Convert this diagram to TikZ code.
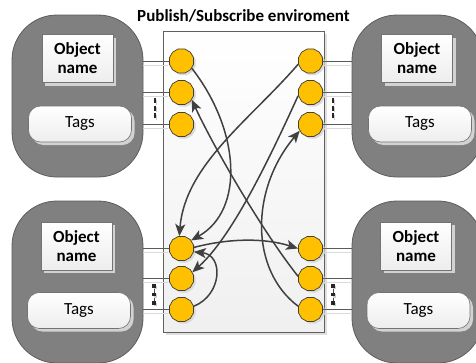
\documentclass[tikz,border=0pt]{standalone}
\usepackage{fontspec}
\setmainfont{Carlito}
\usetikzlibrary{shapes.geometric,arrows.meta,shadows}
\definecolor{gold}{RGB}{255,192,0}
\definecolor{ringline}{RGB}{64,64,64}
\definecolor{blockfill}{RGB}{128,128,128}
\definecolor{blockline}{RGB}{92,92,92}
\definecolor{arr}{RGB}{64,64,64}
\definecolor{connc}{RGB}{90,90,90}
\begin{document}
\begin{tikzpicture}[x=1pt,y=-1pt,
  blockbox/.style={rectangle, draw=blockline, fill=blockfill, line width=0.8pt,
    rounded corners=45pt, minimum width=131pt, minimum height=162pt, inner sep=0pt},
  namebox/.style={rectangle, draw=gray!90!black, line width=0.6pt, top color=white, bottom color=gray!14,
    minimum width=71pt, minimum height=48pt, inner sep=0pt, align=center,
    font=\bfseries\fontsize{17}{19}\selectfont,
    drop shadow={shadow xshift=3pt, shadow yshift=-3pt, fill=gray!35, opacity=1}},
  tagbox/.style={rectangle, draw=gray!90!black, line width=0.6pt, top color=white, bottom color=gray!14,
    rounded corners=12pt, minimum width=103pt, minimum height=36pt, inner sep=0pt,
    font=\fontsize{17}{19}\selectfont,
    drop shadow={shadow xshift=3pt, shadow yshift=-3pt, fill=gray!35, opacity=1}},
  port/.style={regular polygon, regular polygon sides=12, minimum size=25pt, inner sep=0pt,
    fill=gold, draw=ringline, line width=0.7pt,
    drop shadow={shadow xshift=2pt, shadow yshift=-2pt, fill=gray!30, opacity=1}},
  panelbox/.style={rectangle, draw=gray!75!black, line width=0.6pt, top color=white, bottom color=gray!12,
    minimum width=161pt, minimum height=301pt, inner sep=0pt,
    drop shadow={shadow xshift=3pt, shadow yshift=-3pt, fill=gray!25, opacity=1}},
  connline/.style={draw=connc, line width=0.7pt},
  connshade/.style={draw=gray!30, line width=0.9pt},
  arrowline/.style={draw=arr, line width=1.5pt, -{Stealth[length=12pt,width=10pt,inset=3pt]}},
  dashmark/.style={draw=black!85, line width=2.4pt, dash pattern=on 5pt off 2.5pt},
  dashshade/.style={draw=gray!40, line width=1.5pt, dash pattern=on 5pt off 2.5pt}
]
\useasboundingbox (0,0) rectangle (476,362);
\clip (0,0) rectangle (476,362);

% title
\node[font=\bfseries\fontsize{17}{20}\selectfont, anchor=base] (title) at (243.5,21) {Publish/Subscribe enviroment};

% panel
\node[panelbox] (env) at (243.5,181.5) {};

% object blocks
\node[blockbox] (blkTL) at (77.5,96) {};
\node[blockbox] (blkTR) at (417.5,96) {};
\node[blockbox] (blkBL) at (77.5,282) {};
\node[blockbox] (blkBR) at (417.5,282) {};

\node[namebox] (nameTL) at (77.5,58.5) {Object\\name};
\node[namebox] (nameTR) at (417,58.5) {Object\\name};
\node[namebox] (nameBL) at (76.5,246) {Object\\name};
\node[namebox] (nameBR) at (416,246) {Object\\name};

\node[tagbox] (tagTL) at (80,124) {Tags};
\node[tagbox] (tagTR) at (420,124) {Tags};
\node[tagbox] (tagBL) at (79,310.5) {Tags};
\node[tagbox] (tagBR) at (418.5,310.5) {Tags};

% ports
\node[port] (L1) at (181.5,61) {};
\node[port] (L2) at (181.5,92.5) {};
\node[port] (L3) at (181.5,124.5) {};
\node[port] (R1) at (310.5,61) {};
\node[port] (R2) at (310.5,92.5) {};
\node[port] (R3) at (310.5,124.5) {};
\node[port] (BL1) at (181.5,248.5) {};
\node[port] (BL2) at (181.5,278.5) {};
\node[port] (BL3) at (181.5,309.5) {};
\node[port] (BR1) at (310.5,248.5) {};
\node[port] (BR2) at (310.5,278.5) {};
\node[port] (BR3) at (310.5,309.5) {};

% block-to-port links
\foreach \c in {L1,L2,L3}{
  \draw[connshade] ([yshift=-4pt]blkTL.east |- \c) -- ([yshift=-4pt,xshift=-1pt]\c.west);
  \draw[connline] (blkTL.east |- \c) -- (\c.west);}
\foreach \c in {BL1,BL2,BL3}{
  \draw[connshade] ([yshift=-4pt]blkBL.east |- \c) -- ([yshift=-4pt,xshift=-1pt]\c.west);
  \draw[connline] (blkBL.east |- \c) -- (\c.west);}
\foreach \c in {R1,R2,R3}{
  \draw[connshade] ([yshift=-4pt,xshift=1pt]\c.east) -- ([yshift=-4pt]blkTR.west |- \c);
  \draw[connline] (\c.east) -- (blkTR.west |- \c);}
\foreach \c in {BR1,BR2,BR3}{
  \draw[connshade] ([yshift=-4pt,xshift=1pt]\c.east) -- ([yshift=-4pt]blkBR.west |- \c);
  \draw[connline] (\c.east) -- (blkBR.west |- \c);}

% ellipsis marks
\draw[dashshade] (156.5,99.5) -- (156.5,119.5);
\draw[dashmark] (155,98) -- (155,118);
\draw[dashshade] (334.5,99.5) -- (334.5,119.5);
\draw[dashmark] (333,98) -- (333,118);
\foreach \xx in {154,333}{
  \draw[black!70, line width=0.6pt] (\xx,285) -- (\xx,304);
  \foreach \yy in {286,294.5,303}{
    \fill[gray!40] (\xx-0.5,\yy-0.5) rectangle (\xx+3,\yy+3);
    \fill[black!85] (\xx-1.6,\yy-1.8) rectangle (\xx+1.6,\yy+1.8);}}

% subscriptions
\draw[arrowline] (L1.-35) .. controls (240,130) and (245,210) .. (BL1.40);
\draw[arrowline] (BR2.170) .. controls (265,235) and (215,150) .. (L2.-35);
\draw[arrowline] (R1.-165) .. controls (250,120) and (185,165) .. (BL1.100);
\draw[arrowline] (R2.-165) .. controls (271,155) and (233,236) .. (BL2.30);
\draw[arrowline] (BR3.165) .. controls (250,270) and (250,190) .. (R3.-150);
\draw[arrowline] (BL1.5) .. controls (230,238) and (265,238) .. (BR1.west);
\draw[arrowline] (BL3.15) .. controls (222,295) and (224,255) .. (BL1.-15);
\end{tikzpicture}
\end{document}
